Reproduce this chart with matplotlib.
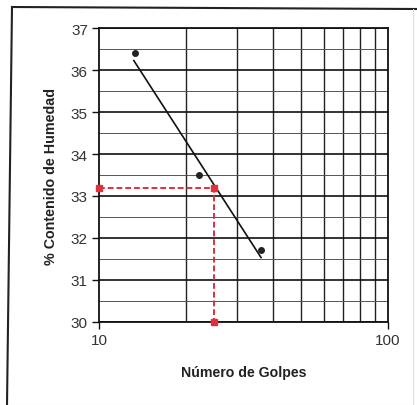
import matplotlib
matplotlib.use("Agg")
import matplotlib.pyplot as plt
from matplotlib.ticker import FixedLocator, NullFormatter, NullLocator
from matplotlib.lines import Line2D

plt.rcParams['font.family'] = ['Liberation Sans', 'DejaVu Sans']

# Data
golpes = [13.3, 22.2, 36.4]
humedad = [36.4, 33.5, 31.7]
trend_x = [13.2, 36.4]
trend_y = [36.23, 31.53]
ll_golpes = 25
ll_humedad = 33.2
x_ticks = [10, 100]
x_tick_labels = ["10", "100"]
y_ticks = [30, 31, 32, 33, 34, 35, 36, 37]
x_minor = [20, 30, 40, 50, 60, 70, 80, 90]
y_minor = [30.5, 31.5, 32.5, 33.5, 34.5, 35.5, 36.5]

fig = plt.figure(figsize=(4.17, 4.06), dpi=100)
ax = fig.add_axes([0.2374, 0.2052, 0.6926, 0.7226])
ax.set_xscale('log')
ax.set_xlim(10, 100)
ax.set_ylim(30, 37)

# grid
for v in x_minor:
    ax.axvline(v, color='#222222', lw=1.0, zorder=1)
for v in y_ticks:
    ax.axhline(v, color='#111111', lw=1.2, zorder=1)
for v in y_minor:
    ax.axhline(v, color='#555555', lw=0.7, zorder=1)

ax.xaxis.set_major_locator(FixedLocator(x_ticks))
ax.set_xticklabels(x_tick_labels)
ax.xaxis.set_minor_locator(NullLocator())
ax.xaxis.set_minor_formatter(NullFormatter())
ax.yaxis.set_major_locator(FixedLocator(y_ticks))
ax.tick_params(axis='both', which='major', direction='out', length=5, width=1,
               labelsize=11, labelcolor='#333333', color='#111111', pad=3)

for s in ax.spines.values():
    s.set_color('#111111')
    s.set_linewidth(1.3)

# trend line and points
ax.plot(trend_x, trend_y, color='#111111', lw=1.2, zorder=3)
ax.plot(golpes, humedad, 'o', color='#222222', ms=4, zorder=4, clip_on=False)

# red dashed construction
ax.plot([10, ll_golpes, ll_golpes], [ll_humedad, ll_humedad, 30], color='#e0303a',
        lw=1.4, ls=(0, (3, 1.5)), zorder=5, clip_on=False)
ax.plot([10, ll_golpes, ll_golpes], [ll_humedad, ll_humedad, 30], 's',
        color='#e0303a', ms=4.5, zorder=6, clip_on=False)

ax.set_xlabel('Número de Golpes', fontsize=10.2, fontweight='bold', color='#222222', labelpad=13)
ax.set_ylabel('% Contenido de Humedad', fontsize=10.3, fontweight='bold', color='#222222', labelpad=9)

# outer frame
W, H = 417, 406
fig.add_artist(Line2D([12/W, 7/W], [1-8/H, 0], transform=fig.transFigure, color='#222222', lw=1.5))
fig.add_artist(Line2D([12/W, 1], [1-8/H, 1-10/H], transform=fig.transFigure, color='#222222', lw=1.5))
fig.add_artist(Line2D([413/W, 413/W], [1-10/H, 0], transform=fig.transFigure, color='#dddddd', lw=0.8))
fig.add_artist(Line2D([7/W, 1], [0.5/H, 0.5/H], transform=fig.transFigure, color='#dddddd', lw=0.8))

fig.savefig('out.png', dpi=100)
